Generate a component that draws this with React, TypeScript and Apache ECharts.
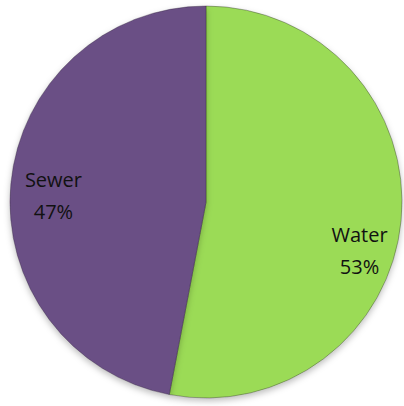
import React, { useEffect, useRef } from "react";
import * as echarts from "echarts";

const categories = ["Water", "Sewer"];
const values = [53, 47];
const colors = ["#9BDB57", "#6A4F85"];

export default function App() {
  const ref = useRef<HTMLDivElement>(null);
  useEffect(() => {
    if (!ref.current) return;
    const chart = echarts.init(ref.current, null, { renderer: "svg" });
    chart.setOption({
      animation: false,
      backgroundColor: "#ffffff",
      series: [
        {
          type: "pie",
          center: [206, 202],
          radius: [0, 196],
          startAngle: 90,
          clockwise: true,
          data: categories.map((c, i) => ({
            name: c,
            value: values[i],
            itemStyle: { color: colors[i] },
          })),
          itemStyle: {
            borderColor: "rgba(40,30,50,0.35)",
            borderWidth: 1,
            shadowBlur: 6,
            shadowOffsetY: 3,
            shadowColor: "rgba(0,0,0,0.25)",
          },
          label: {
            show: true,
            position: "inside",
            formatter: "{b}\n{d}%",
            color: "#111111",
            fontSize: 20,
            lineHeight: 32,
            fontFamily: "'Open Sans', 'Liberation Sans', sans-serif",
          },
          labelLayout: (p: any) =>
            p.dataIndex === 0 ? { dx: 53, dy: 39 } : { dx: -52, dy: 3 },
          labelLine: { show: false },
          emphasis: { disabled: true },
        },
      ],
    });
    return () => chart.dispose();
  }, []);
  return (
    <div
      ref={ref}
      style={{ position: "fixed", left: 0, top: 0, width: 404, height: 406 }}
    />
  );
}
